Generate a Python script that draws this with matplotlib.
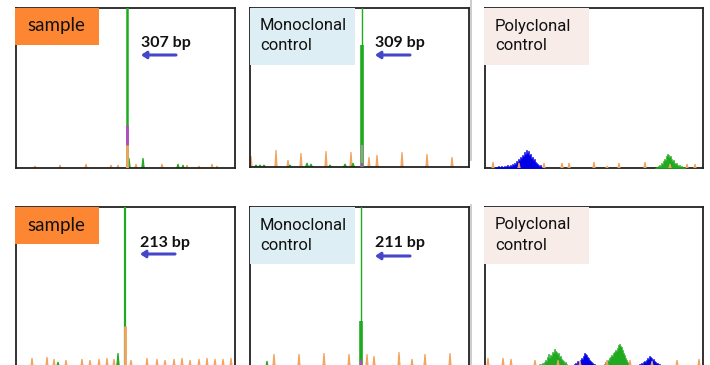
import matplotlib
matplotlib.use("Agg")
import matplotlib.pyplot as plt
from matplotlib.patches import Rectangle, FancyArrowPatch
from matplotlib.lines import Line2D
import numpy as np

W, H = 710, 365

# ---------------- data (x: position within panel, y: signal height) ----------------
# size standard (orange) peaks
std_pos_s1 = [19, 44, 70, 95, 102, 120, 146, 171, 183, 196, 201]
std_h_s1 = [2, 3, 4, 3, 3, 4, 4, 3, 2, 4, 2]
std_pos_m1 = [1, 26, 38, 51, 76, 101, 119, 127, 152, 177, 202]
std_h_m1 = [11, 17, 7, 14, 16, 15, 10, 12, 15, 13, 10]
std_pos_p1 = [8, 34, 59, 77, 84, 109, 122, 134, 160, 185, 202, 210]
std_h_p1 = [6, 5, 5, 5, 5, 6, 2, 5, 6, 4, 4, 4]

std_pos_s2 = [16, 31, 38, 50, 66, 74, 83, 91, 98, 115, 131, 141, 149, 158, 166, 174, 183, 191, 199, 207, 215]
std_h_s2 = [8, 9, 7, 6, 7, 6, 7, 8, 7, 6, 8, 7, 6, 7, 8, 6, 7, 8, 7, 7, 8]
std_pos_m2 = [24, 49, 74, 99, 117, 124, 149, 162, 175, 200]
std_h_m2 = [12, 12, 13, 12, 12, 10, 14, 7, 12, 13]
std_pos_p2 = [3, 18, 26, 50, 73, 95, 122, 145, 167, 192, 214]
std_h_p2 = [8, 8, 7, 6, 6, 5, 6, 6, 5, 6, 7]

# small green peaks
grn_pos_s1 = [113, 127, 162, 167]
grn_h_s1 = [10, 10, 4, 3]
grn_pos_m1 = [6, 10, 14, 40, 57, 61, 80, 95, 103]
grn_h_m1 = [2, 2, 2, 2, 4, 3, 2, 3, 4]
grn_pos_s2 = [42, 102]
grn_h_s2 = [4, 13]
grn_pos_m2 = [17]
grn_h_m2 = [5]

# main clonal peaks: position, overlay heights
main_s1 = 111
main_s1_purple = (23, 43)
main_s1_orange = 23
main_m1 = 112
main_m1_thick = 122
main_m1_gray = 22
main_s2 = 109
main_s2_orange = 40
main_m2 = 111
main_m2_thick = 45

# polyclonal distributions (start position, one value per unit step)
p1_blue_start = 10
p1_blue = [1, 0, 1, 2, 1, 1, 2, 1, 0, 2, 1, 2, 3, 1, 2, 3, 2, 4,
           3, 5, 4, 7, 6, 9, 8, 11, 10, 13, 12, 16, 14, 18, 15, 17, 13, 14, 10, 11, 8, 9,
           6, 5, 4, 3, 2, 3, 1, 1, 0]
p1_green_start = 170
p1_green = [0, 1, 1, 2, 3, 2, 5, 4, 7, 9, 8, 12, 14, 13, 11, 12, 9, 7, 8, 5, 4, 5, 3, 2,
            3, 1, 2, 1, 1, 0, 0]
p2_green1_start = 50
p2_green1 = [1, 0, 1, 1, 2, 1, 2, 3, 2, 4, 6, 5, 9, 12, 8, 11, 10, 14, 13, 17, 15, 14, 12,
             13, 9, 10, 7, 6, 5, 3, 4, 2, 1, 1, 0]
p2_blue1_start = 88
p2_blue1 = [1, 2, 3, 2, 5, 4, 3, 6, 8, 7, 10, 13, 12, 11, 9, 8, 6, 5, 4, 3, 2, 2, 1, 1, 0]
p2_green2_start = 118
p2_green2 = [1, 2, 4, 3, 6, 5, 8, 9, 11, 10, 13, 14, 16, 15, 18, 21, 22, 20, 19, 16, 13,
             11, 8, 6, 4, 3, 2, 1, 0]
p2_blue2_start = 152
p2_blue2 = [1, 1, 2, 2, 3, 2, 4, 5, 4, 6, 8, 7, 10, 9, 8, 6, 7, 5, 4, 3, 3, 2, 2, 1, 1, 1, 0]

labels_size = ["307 bp", "309 bp", "213 bp", "211 bp"]

ORANGE = "#f2a35e"
GREEN = "#1faa1f"
BLUE = "#0000e6"
PURPLE = "#b04cc0"
GRAY = "#9a9a9a"
ARROW = "#4646c8"

fig = plt.figure(figsize=(W / 100, H / 100), dpi=100)


def fx(x):
    return x / W


def fy(y):
    return 1 - y / H


def make_ax(l, t, r, b):
    ax = fig.add_axes([fx(l), fy(b), (r - l) / W, (b - t) / H])
    ax.set_xlim(0, r - l)
    ax.set_ylim(0, b - t)
    ax.set_xticks([])
    ax.set_yticks([])
    for s in ax.spines.values():
        s.set_color("#222222")
        s.set_linewidth(1.3)
    return ax


def spikes(ax, pos, hts, color, hw=1.1, z=2):
    for p, h in zip(pos, hts):
        ax.fill([p - hw, p, p + hw], [0, h, 0], color=color, lw=0.8, ec=color, zorder=z)


def hump(ax, start, hts, color, z=3):
    xs = start + np.arange(len(hts))
    ax.fill_between(xs, 0, hts, color=color, lw=0.4, ec=color, zorder=z, step="mid")


# ---------------- top row ----------------
a1 = make_ax(16, 8, 235, 168)
spikes(a1, std_pos_s1, std_h_s1, ORANGE)
spikes(a1, grn_pos_s1, grn_h_s1, GREEN, hw=1.2)
a1.vlines(main_s1, 0, 1000, color=GREEN, lw=1.8, zorder=4)
a1.vlines(main_s1, *main_s1_purple, color=PURPLE, lw=2.0, zorder=5)
a1.vlines(main_s1, 0, main_s1_orange, color=ORANGE, lw=2.0, zorder=5)

a2 = make_ax(250, 8, 469, 167)
spikes(a2, std_pos_m1, std_h_m1, ORANGE)
spikes(a2, grn_pos_m1, grn_h_m1, GREEN, hw=1.5)
a2.vlines(main_m1, 0, 1000, color=GREEN, lw=1.0, zorder=4)
a2.vlines(main_m1, 0, main_m1_thick, color=GREEN, lw=2.6, zorder=4)
a2.vlines(main_m1, 0, main_m1_gray, color=GRAY, lw=1.6, zorder=5)
a2.vlines(main_m1, 0, 4, color=PURPLE, lw=1.6, zorder=6)

a3 = make_ax(485, 8, 703, 168)
spikes(a3, std_pos_p1, std_h_p1, ORANGE, z=4)
hump(a3, p1_blue_start, p1_blue, BLUE)
hump(a3, p1_green_start, p1_green, GREEN)

# ---------------- bottom row ----------------
b1 = make_ax(16, 207, 235, 366)
spikes(b1, std_pos_s2, std_h_s2, ORANGE)
spikes(b1, grn_pos_s2, grn_h_s2, GREEN, hw=1.2)
b1.vlines(main_s2, 0, 1000, color=GREEN, lw=1.6, zorder=4)
b1.vlines(main_s2, 0, main_s2_orange, color=ORANGE, lw=2.0, zorder=5)

b2 = make_ax(250, 207, 469, 366)
spikes(b2, std_pos_m2, std_h_m2, ORANGE)
spikes(b2, grn_pos_m2, grn_h_m2, GREEN, hw=1.0)
b2.vlines(main_m2, 0, 1000, color=GREEN, lw=1.0, zorder=4)
b2.vlines(main_m2, 0, main_m2_thick, color=GREEN, lw=2.6, zorder=4)
b2.vlines(main_m2, 0, 6, color=PURPLE, lw=1.6, zorder=6)

b3 = make_ax(485, 207, 703, 366)
spikes(b3, std_pos_p2, std_h_p2, ORANGE, z=4)
hump(b3, p2_green1_start, p2_green1, GREEN)
hump(b3, p2_blue1_start, p2_blue1, BLUE)
hump(b3, p2_green2_start, p2_green2, GREEN)
hump(b3, p2_blue2_start, p2_blue2, BLUE)

# gray separator line
fig.add_artist(Line2D([fx(471), fx(471)], [fy(0), fy(160)], color="#c4c4c4", lw=1.2))
fig.add_artist(Line2D([fx(471), fx(471)], [fy(205), fy(365)], color="#c4c4c4", lw=1.2))


# ---------------- label boxes ----------------
def box(l, t, r, b, color):
    fig.add_artist(Rectangle((fx(l), fy(b)), (r - l) / W, (b - t) / H,
                             transform=fig.transFigure, color=color, zorder=10, lw=0))


for top in (8, 207):
    box(15, top, 99, top + 37, "#fd8632")
    fig.text(fx(27), fy(top + 18), "sample", fontsize=13.5, family="Lato",
             va="center", ha="left", color="#111111", zorder=11)
    box(250, top, 355, top + 57, "#ddeef5")
    fig.text(fx(260), fy(top + 18), "Monoclonal", fontsize=12, family="Roboto",
             va="center", ha="left", color="#111111", zorder=11)
    fig.text(fx(260), fy(top + 38), "control", fontsize=12, family="Roboto",
             va="center", ha="left", color="#111111", zorder=11)
    box(484, top, 589, top + 57, "#f8ece8")
    fig.text(fx(495), fy(top + 18), "Polyclonal", fontsize=12, family="Roboto",
             va="center", ha="left", color="#111111", zorder=11)
    fig.text(fx(495), fy(top + 38), "control", fontsize=12, family="Roboto",
             va="center", ha="left", color="#111111", zorder=11)

# size annotations with arrows
ann = [(141, 43, 55, labels_size[0]), (375, 43, 55, labels_size[1]),
       (140, 243, 254, labels_size[2]), (375, 243, 256, labels_size[3])]
for x, ty, ay, txt in ann:
    fig.text(fx(x), fy(ty), txt, fontsize=11.5, family="Lato", fontweight="bold",
             va="center", ha="left", color="#111111", zorder=11)
    arr = FancyArrowPatch((fx(x + 35), fy(ay)), (fx(x), fy(ay)), transform=fig.transFigure,
                          arrowstyle="-|>,head_length=3,head_width=2", color=ARROW,
                          lw=2.2, zorder=11, shrinkA=0, shrinkB=0)
    fig.add_artist(arr)

fig.savefig("out.png", dpi=100)
